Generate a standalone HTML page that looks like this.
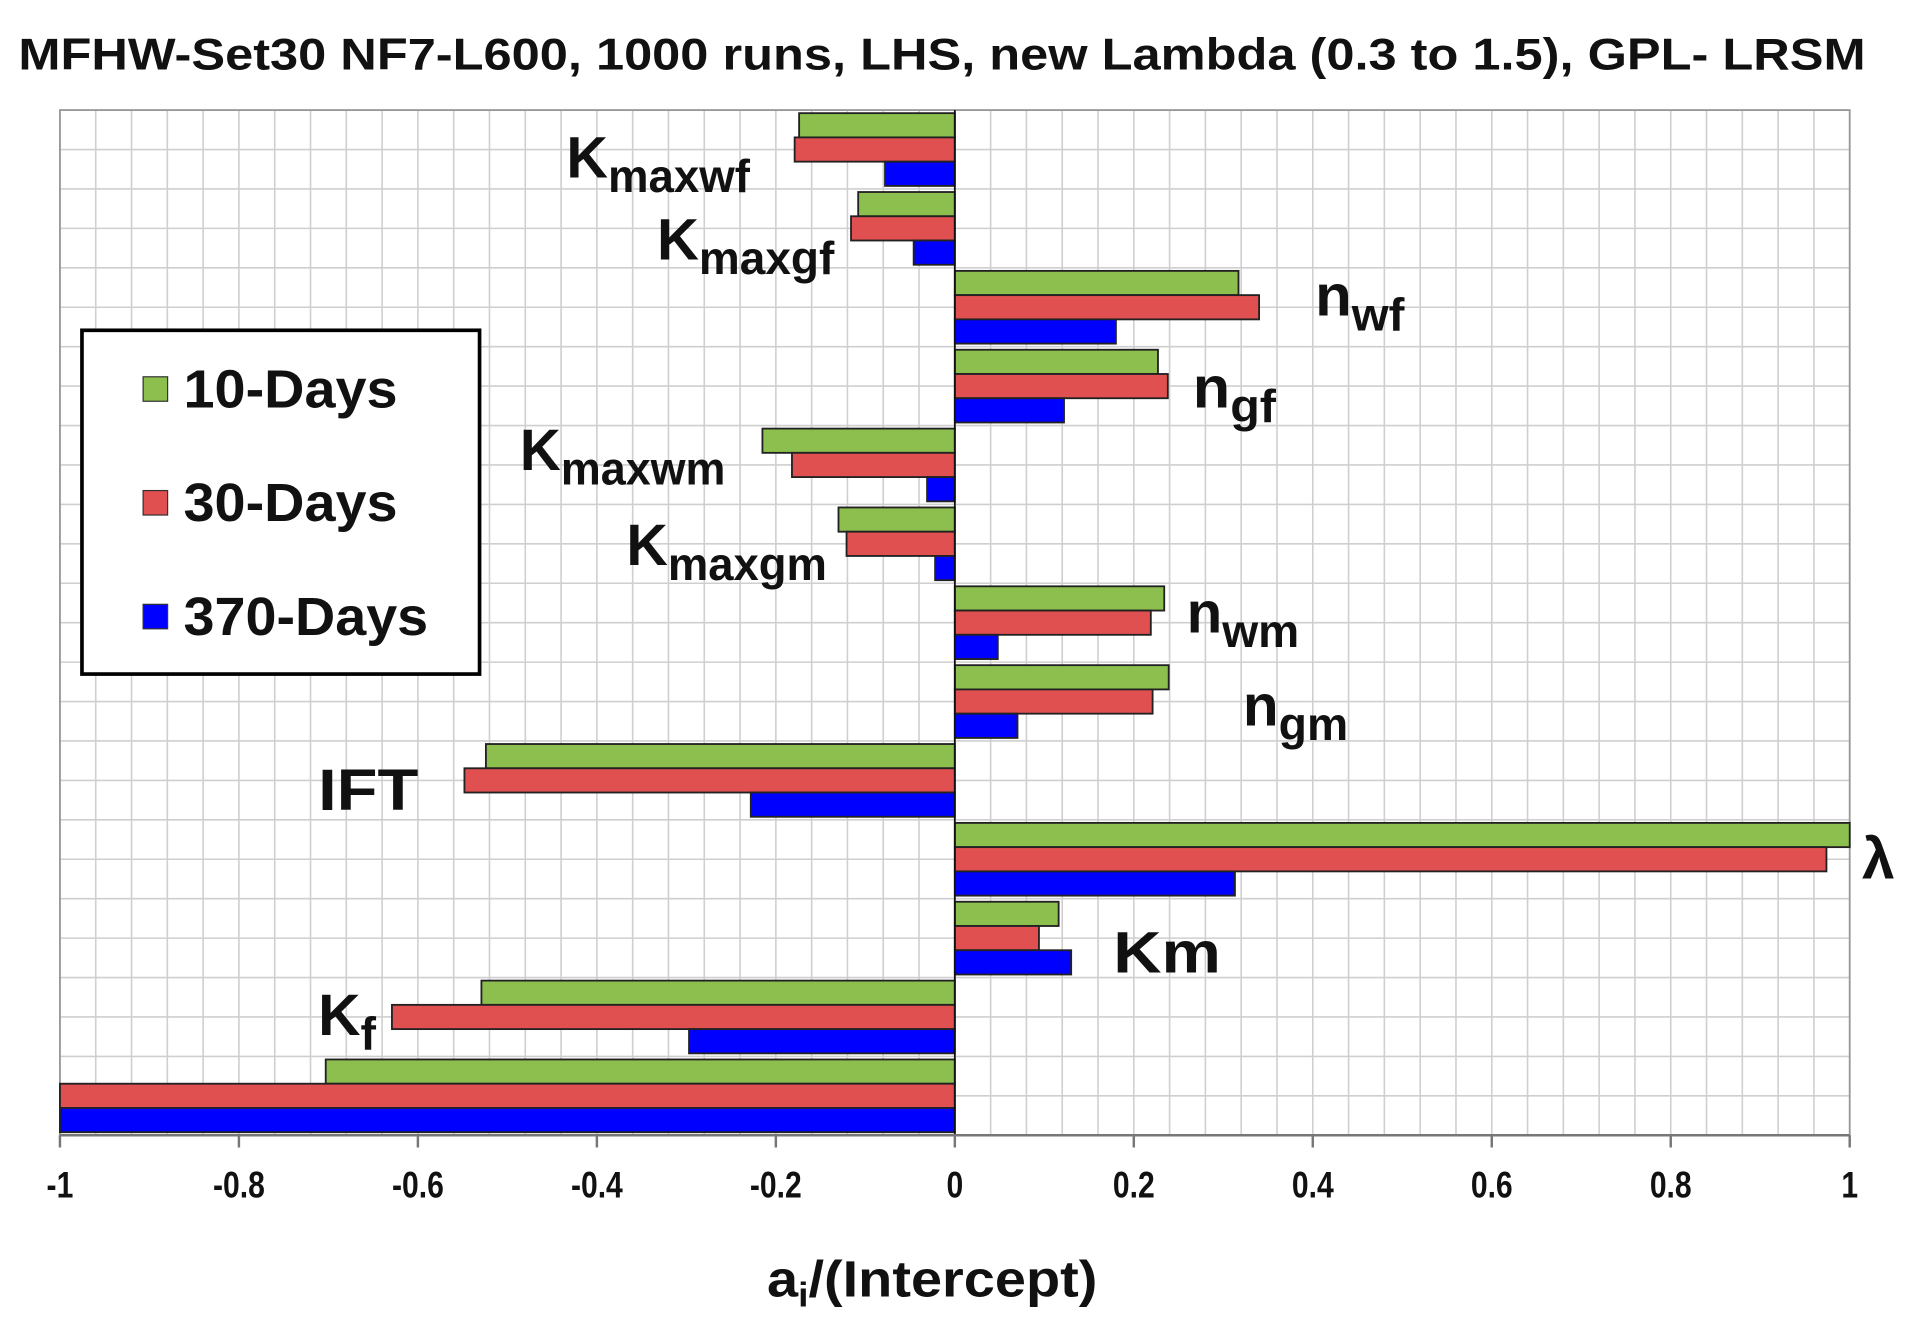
<!DOCTYPE html>
<html><head><meta charset="utf-8"><style>
html,body{margin:0;padding:0;background:#fff;}
svg{display:block;}
text{font-family:"Liberation Sans",Arial,sans-serif;font-weight:bold;fill:#111;}
</style></head><body>
<svg id="chart" width="1917" height="1331" viewBox="0 0 1567 1088" preserveAspectRatio="none" xmlns="http://www.w3.org/2000/svg">
<text x="770" y="57" font-size="36" text-anchor="middle" textLength="1510" lengthAdjust="spacingAndGlyphs">MFHW-Set30 NF7-L600, 1000 runs, LHS, new Lambda (0.3 to 1.5), GPL- LRSM</text>
<g id="grid"></g>
<g id="bars"></g>
<g id="axis"></g>
<g id="labels" font-size="48">
<text x="463" y="145" textLength="150" lengthAdjust="spacingAndGlyphs">K<tspan font-size="38" dy="12">maxwf</tspan></text>
<text x="537" y="212" textLength="145" lengthAdjust="spacingAndGlyphs">K<tspan font-size="38" dy="12">maxgf</tspan></text>
<text x="1075" y="258" textLength="73" lengthAdjust="spacingAndGlyphs">n<tspan font-size="38" dy="12">wf</tspan></text>
<text x="975" y="333" textLength="68" lengthAdjust="spacingAndGlyphs">n<tspan font-size="38" dy="12">gf</tspan></text>
<text x="425" y="384" textLength="168" lengthAdjust="spacingAndGlyphs">K<tspan font-size="38" dy="12">maxwm</tspan></text>
<text x="512" y="462" textLength="164" lengthAdjust="spacingAndGlyphs">K<tspan font-size="38" dy="12">maxgm</tspan></text>
<text x="970" y="517" textLength="92" lengthAdjust="spacingAndGlyphs">n<tspan font-size="38" dy="12">wm</tspan></text>
<text x="1016" y="593" textLength="86" lengthAdjust="spacingAndGlyphs">n<tspan font-size="38" dy="12">gm</tspan></text>
<text x="260" y="662" textLength="82" lengthAdjust="spacingAndGlyphs">IFT</text>
<text x="1522" y="718">λ</text>
<text x="910" y="795" textLength="88" lengthAdjust="spacingAndGlyphs">Km</text>
<text x="260" y="846">K<tspan font-size="38" dy="12">f</tspan></text>
</g>
<g>
<rect x="67" y="270" width="325" height="281" fill="#fff" stroke="#000" stroke-width="3"/>
<rect x="117" y="308" width="20" height="20" fill="#8dbf4f" stroke="#333"/>
<text x="150" y="333" font-size="44" textLength="175" lengthAdjust="spacingAndGlyphs">10-Days</text>
<rect x="117" y="401" width="20" height="20" fill="#e05050" stroke="#333"/>
<text x="150" y="426" font-size="44" textLength="175" lengthAdjust="spacingAndGlyphs">30-Days</text>
<rect x="117" y="494" width="20" height="20" fill="#0000ff" stroke="#333"/>
<text x="150" y="519" font-size="44" textLength="200" lengthAdjust="spacingAndGlyphs">370-Days</text>
</g>
<text x="762" y="1060" font-size="42" text-anchor="middle" textLength="270" lengthAdjust="spacingAndGlyphs">a<tspan font-size="28" dy="8">i</tspan><tspan dy="-8">/(Intercept)</tspan></text>
</svg>
<script>
const categories=["Kmaxwf","Kmaxgf","nwf","ngf","Kmaxwm","Kmaxgm","nwm","ngm","IFT","lambda","Km","Kf","other"];
const days10=[-0.174,-0.108,0.317,0.227,-0.215,-0.130,0.234,0.239,-0.524,1.0,0.116,-0.529,-0.703];
const days30=[-0.179,-0.116,0.340,0.238,-0.182,-0.121,0.219,0.221,-0.548,0.974,0.094,-0.629,-1.0];
const days370=[-0.078,-0.046,0.180,0.122,-0.031,-0.022,0.048,0.070,-0.228,0.313,0.130,-0.297,-1.0];
const tickValues=[-1,-0.8,-0.6,-0.4,-0.2,0,0.2,0.4,0.6,0.8,1];
const tickLabels=["-1","-0.8","-0.6","-0.4","-0.2","0","0.2","0.4","0.6","0.8","1"];

const NS="http://www.w3.org/2000/svg";
const L=49,R=1512,T=90,B=928;
function xs(v){return L+(v+1)/2*(R-L);}
const groupH=(B-T)/categories.length;
function ys(i){return T+i*groupH;}
function mk(tag,attrs,parent){const e=document.createElementNS(NS,tag);for(const k in attrs)e.setAttribute(k,attrs[k]);parent.appendChild(e);return e;}
const grid=document.getElementById('grid'),bars=document.getElementById('bars'),axis=document.getElementById('axis');
mk('rect',{x:L,y:T,width:R-L,height:B-T,fill:'#fff'},grid);
for(let k=0;k<=50;k++){const x=L+k*(R-L)/50;const l=mk('line',{x1:x,x2:x,y1:T,y2:B,stroke:'#cfcfcf','stroke-width':1.3},grid);

}
for(let k=0;k<=categories.length*2;k++){const y=T+k*groupH/2;const l=mk('line',{x1:L,x2:R,y1:y,y2:y,stroke:'#cfcfcf','stroke-width':1.3},grid);

}
mk('rect',{x:L,y:T,width:R-L,height:B-T,fill:'none',stroke:'#999','stroke-width':1.5},grid);
const series=[[days10,'#8dbf4f','10-days'],[days30,'#e05050','30-days'],[days370,'#0000ff','370-days']];
const bh=(groupH-5)/3;
categories.forEach((c,i)=>{
 series.forEach((s,j)=>{
  const v=s[0][i];const x0=xs(0),x1=xs(v);
  const r=mk('rect',{x:Math.min(x0,x1),y:ys(i)+2.5+j*bh,width:Math.abs(x1-x0),height:bh,fill:s[1],stroke:'#222','stroke-width':1.5},bars);
  
  
 });
});
mk('line',{x1:xs(0),x2:xs(0),y1:T,y2:B,stroke:'#111','stroke-width':1.5},axis);
mk('line',{x1:L,x2:R,y1:B,y2:B,stroke:'#777','stroke-width':2},axis);
tickValues.forEach((v,i)=>{
 mk('line',{x1:xs(v),x2:xs(v),y1:B,y2:B+10,stroke:'#777','stroke-width':2},axis);
 const t=mk('text',{x:xs(v),y:979,'font-size':30,'text-anchor':'middle',transform:'translate('+xs(v)+',0) scale(0.82,1) translate('+(-xs(v))+',0)'},axis);
 t.textContent=tickLabels[i];
 
 
});
</script>
</body></html>
